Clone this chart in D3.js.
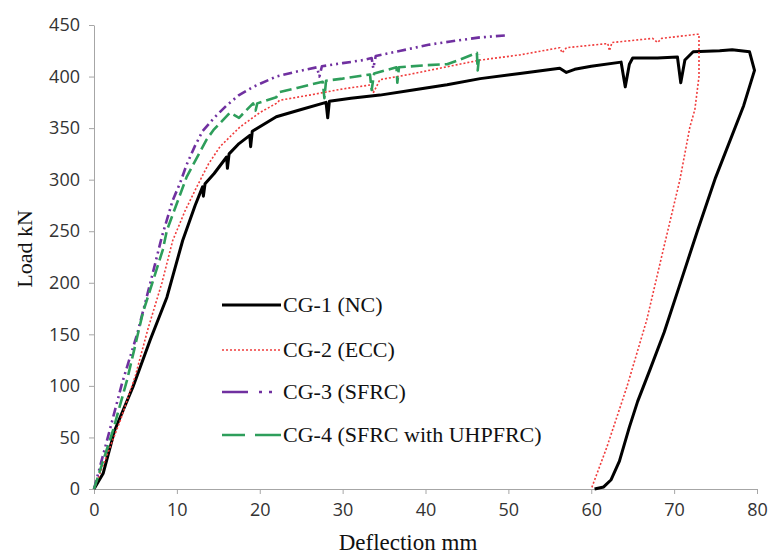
<!DOCTYPE html>
<html lang="en">
<head>
    <meta charset="UTF-8" />
    <title>Load - Deflection</title>
    <style>
        body { margin: 0; background: #fff; }
        svg { display: block; }
        .tick text { font-family: "Open Sans", "Liberation Sans", sans-serif; font-size: 18px; fill: #333; }
        .axis path, .axis line { stroke: #a6a6a6; }
        .title, .legend text { font-family: "Liberation Serif", "Times New Roman", serif; fill: #111; }
    </style>
</head>
<body>
    <svg id="chart"></svg>
    <script src="https://d3js.org/d3.v7.min.js"></script>
    <script>
        // Readings from the curves: [deflection mm, load kN]
        const cg1 = [[0,0],[1.1,15],[2.5,57],[4.7,99],[6.8,145],[8.8,186],[10.7,241],[12.2,275],[13.1,293],[13.2,284],[13.4,296],
            [14.5,306],[16,322],[16.1,311],[16.3,325],[17.5,335],[18.8,343],[18.9,332],[19.1,347],[22,361],[25,368],[28,375],
            [28.2,360],[28.4,376],[31,379],[34.5,382],[38.5,387],[42.6,392],[46.6,398],[51.4,403],[56.2,408],[57,404],[58,407],
            [60,410],[63.6,414],[64.1,390],[64.6,412],[65,418],[68,418],[70.4,419],[70.8,394],[71.3,416],[72.3,424],[75.5,425],
            [77,426],[79.1,424],[79.7,406],[78.4,372],[75,302],[72.8,250],[70.6,196],[68.8,152],[67.1,116],[65.6,85],
            [64.6,60],[63.4,27],[62.4,9],[61.5,2],[60.4,0]];
        const cg2 = [[0,0],[1.2,25],[3.2,67],[5,110],[6.5,155],[8.2,200],[9.5,241],[11,270],[12.4,293],[13.8,315],[15.2,332],
            [17.6,351],[20,365],[22,374],[22.4,377],[26,382],[30,388],[33.5,392],[33.7,384],[34.5,397],[38,402],[42.9,410],
            [46.6,416],[51.4,421],[56.2,428],[56.5,423],[57,428],[62,432],[62.2,425],[62.5,433],[67.4,437],[68,433],[68.5,437],
            [72.7,441],[73,441],[73,400],[72.5,368],[71.9,351],[70.7,300],[68.6,229],[66.7,164],[64.3,99],[61.9,41],[60,0]];
        const cg3 = [[0,0],[1.7,51],[3.4,103],[5.2,150],[6.8,200],[8.2,245],[9.5,280],[10.4,297],[11.2,315],[12.2,333],
            [13.1,347],[14.5,360],[16,372],[17.5,382],[19.2,390],[22,400],[24,404],[26.9,409],[27.2,400],[27.5,410],[30,413],
            [32.5,416],[33.5,418],[33.7,408],[34,420],[37,425],[40.5,431],[43,434],[46.6,438],[49.8,440]];
        const cg4 = [[0,0],[2.3,57],[4,106],[5.9,171],[8.3,232],[8.8,251],[11.2,303],[13.6,339],[14.4,348],[16.4,365],
            [17.5,360],[19.2,374],[19.5,367],[19.7,374],[22,380],[22.4,385],[24.5,389],[27.6,395],[27.8,379],[28,396],[30,398],
            [33.3,402],[33.5,387],[33.8,403],[36.5,409],[36.6,394],[36.8,409],[40,411],[42.6,412],[44,416],[46.2,423],
            [46.3,406],[46.5,422]];

        const seriesNames = ["CG-1 (NC)", "CG-2 (ECC)", "CG-3 (SFRC)", "CG-4 (SFRC with UHPFRC)"];
        const xTicks = [0, 10, 20, 30, 40, 50, 60, 70, 80];
        const yTicks = [0, 50, 100, 150, 200, 250, 300, 350, 400, 450];

        const width = 771, height = 554;
        const margin = { top: 25, right: 14, bottom: 65, left: 94 };

        const styles = [
            { color: "#000000", w: 3, dash: null, legendDash: null },
            { color: "#f03c3c", w: 1.6, dash: "2,2", legendDash: "2,2" },
            { color: "#7030a0", w: 2.6, dash: "9,4,2,4,2,4", legendDash: "26,11,3,7,3,30" },
            { color: "#2e9e5b", w: 2.6, dash: "12,5", legendDash: "23,10,40" }
        ];
        const allSeries = [cg1, cg2, cg3, cg4];

        const svg = d3.select("#chart").attr("width", width).attr("height", height);

        const x = d3.scaleLinear().domain([0, 80]).range([margin.left, width - margin.right]);
        const y = d3.scaleLinear().domain([0, 450]).range([height - margin.bottom, margin.top]);

        svg.append("g")
            .attr("class", "axis")
            .attr("transform", `translate(0,${height - margin.bottom})`)
            .call(d3.axisBottom(x).tickValues(xTicks).tickSize(5).tickSizeOuter(0).tickPadding(9));

        svg.append("g")
            .attr("class", "axis")
            .attr("transform", `translate(${margin.left},0)`)
            .call(d3.axisLeft(y).tickValues(yTicks).tickSize(5).tickSizeOuter(0).tickPadding(9));

        const line = d3.line().x(d => x(d[0])).y(d => y(d[1]));

        allSeries.forEach((data, i) => {
            svg.append("path")
                .datum(data)
                .attr("fill", "none")
                .attr("stroke", styles[i].color)
                .attr("stroke-width", styles[i].w)
                .attr("stroke-linejoin", "round")
                .attr("stroke-dasharray", styles[i].dash)
                .attr("d", line);
        });

        // axis titles
        svg.append("text")
            .attr("class", "title")
            .attr("x", 408).attr("y", 550)
            .attr("text-anchor", "middle")
            .style("font-size", "23px")
            .text("Deflection mm");

        svg.append("text")
            .attr("class", "title")
            .attr("transform", "translate(32,249) rotate(-90)")
            .attr("text-anchor", "middle")
            .style("font-size", "22px")
            .text("Load kN");

        // legend
        const legendRows = [305, 350, 392, 435];
        const legend = svg.append("g").attr("class", "legend");
        seriesNames.forEach((name, i) => {
            legend.append("line")
                .attr("x1", 222).attr("x2", 281)
                .attr("y1", legendRows[i]).attr("y2", legendRows[i])
                .attr("stroke", styles[i].color)
                .attr("stroke-width", styles[i].w)
                .attr("stroke-dasharray", styles[i].legendDash);
            legend.append("text")
                .attr("x", 283).attr("y", legendRows[i] + 7)
                .style("font-size", "22px")
                .text(name);
        });
    </script>
</body>
</html>
